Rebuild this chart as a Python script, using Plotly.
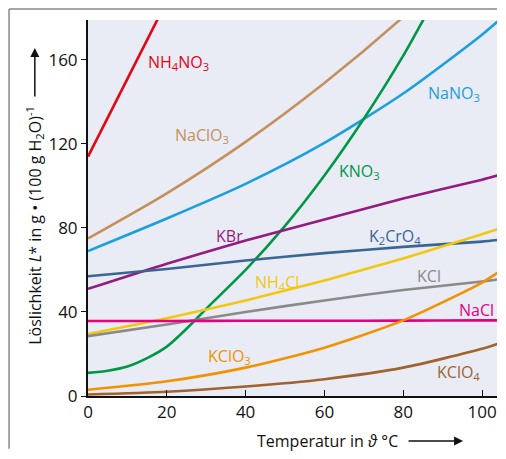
import plotly.graph_objects as go

FONT = "Open Sans"

# temperature grid (°C) shared by most curves
temp = [0, 20, 40, 60, 80, 100, 105]
temp_kno3 = [0, 5, 10, 15, 20, 25, 30, 40, 50, 60, 70, 80, 90]
temp_nh4no3 = [0, 10, 20]

# solubility in g per 100 g water
nh4no3 = [114, 151, 188]
naclo3 = [75, 96.5, 121, 149, 180.5, 216, 226]
nano3 = [69, 84.5, 101, 120.5, 144, 172, 180]
kno3 = [11, 12, 14, 18, 23.5, 32, 41.5, 60, 81, 105, 132, 162, 196]
kbr = [51, 63, 74, 84, 94, 103, 105.5]
k2cro4 = [57, 60.5, 64.5, 68, 71, 73.5, 74.5]
nh4cl = [29.5, 37, 45.5, 55, 65.5, 77, 80]
kcl = [28.5, 34, 40, 45.5, 50.5, 54.5, 55.8]
nacl = [35.7, 35.7, 35.8, 35.8, 35.9, 36, 36]
kclo3 = [3, 7, 13.5, 23, 36, 54, 60]
kclo4 = [0.7, 2, 4.5, 8, 13.5, 22.5, 25.5]

series = [
    ("NH<sub>4</sub>NO<sub>3</sub>", temp_nh4no3, nh4no3, "#e30613", 23, 159),
    ("NaClO<sub>3</sub>", temp, naclo3, "#c4915c", 29, 124),
    ("NaNO<sub>3</sub>", temp, nano3, "#1a9fdf", 93, 144),
    ("KNO<sub>3</sub>", temp_kno3, kno3, "#009846", 69, 107),
    ("KBr", temp, kbr, "#951b81", 36, 76),
    ("K<sub>2</sub>CrO<sub>4</sub>", temp, k2cro4, "#3a6693", 78, 76),
    ("NH<sub>4</sub>Cl", temp, nh4cl, "#f2c80f", 48, 54),
    ("KCl", temp, kcl, "#8a8a8a", 86.5, 57),
    ("NaCl", temp, nacl, "#e5007d", 98.5, 41),
    ("KClO<sub>3</sub>", temp, kclo3, "#f39200", 36, 19),
    ("KClO<sub>4</sub>", temp, kclo4, "#a0632e", 94, 11),
]

fig = go.Figure()
for name, x, y, color, lx, ly in series:
    fig.add_trace(go.Scatter(x=x, y=y, mode="lines", line=dict(color=color, width=2.6, shape="spline", smoothing=0.7),
                             name=name, showlegend=False, hoverinfo="skip"))
    fig.add_annotation(x=lx, y=ly, text=name, showarrow=False, font=dict(color=color, size=16, family=FONT))

# axis titles with arrows
fig.add_annotation(xref="paper", yref="paper", x=-0.13, y=0.455, textangle=-90, showarrow=False,
                   xanchor="center", yanchor="middle",
                   text="Löslichkeit <i>L</i>* in g • (100 g H<sub>2</sub>O)<sup>-1</sup>",
                   font=dict(size=16, family=FONT, color="#111"))
fig.add_annotation(xref="paper", yref="paper", x=-0.13, y=0.9255, ax=0, ay=50, text="", showarrow=True,
                   arrowhead=2, arrowsize=1.2, arrowwidth=1.5, arrowcolor="#111")
fig.add_annotation(xref="paper", yref="paper", x=0.585, y=-0.12, showarrow=False,
                   xanchor="center", yanchor="middle",
                   text="Temperatur in <i>ϑ</i> °C", font=dict(size=16, family=FONT, color="#111"))
fig.add_annotation(xref="paper", yref="paper", x=0.917, y=-0.12, ax=-56, ay=0, text="", showarrow=True,
                   arrowhead=2, arrowsize=1.2, arrowwidth=1.5, arrowcolor="#111")

# outer frame (top and left edges), kept inside the figure so the page doesn't scroll
fig.add_shape(type="line", xref="paper", yref="paper", x0=-0.193, x1=1.0, y0=1.029, y1=1.029,
              line=dict(color="#888", width=1.5))
fig.add_shape(type="line", xref="paper", yref="paper", x0=-0.193, x1=-0.193, y0=1.029, y1=-0.14,
              line=dict(color="#888", width=1.5))

# page body has an 8px margin, so the figure is sized to fit inside it
fig.update_layout(
    width=489, height=443,
    margin=dict(l=80, r=0, t=12, b=55),
    paper_bgcolor="white", plot_bgcolor="#e9ebf5",
    font=dict(family=FONT, size=17, color="#111"),
)
fig.update_xaxes(range=[0, 103.8], tickvals=[0, 20, 40, 60, 80, 100], showgrid=False, zeroline=False,
                 showline=True, linecolor="#111", linewidth=2, ticks="inside", ticklen=6, tickcolor="#111")
fig.update_yaxes(range=[0, 179], tickvals=[0, 40, 80, 120, 160], showgrid=False, zeroline=False,
                 showline=True, linecolor="#111", linewidth=2, ticks="outside", ticklen=5, tickcolor="#111")

fig.write_html("out.html")
